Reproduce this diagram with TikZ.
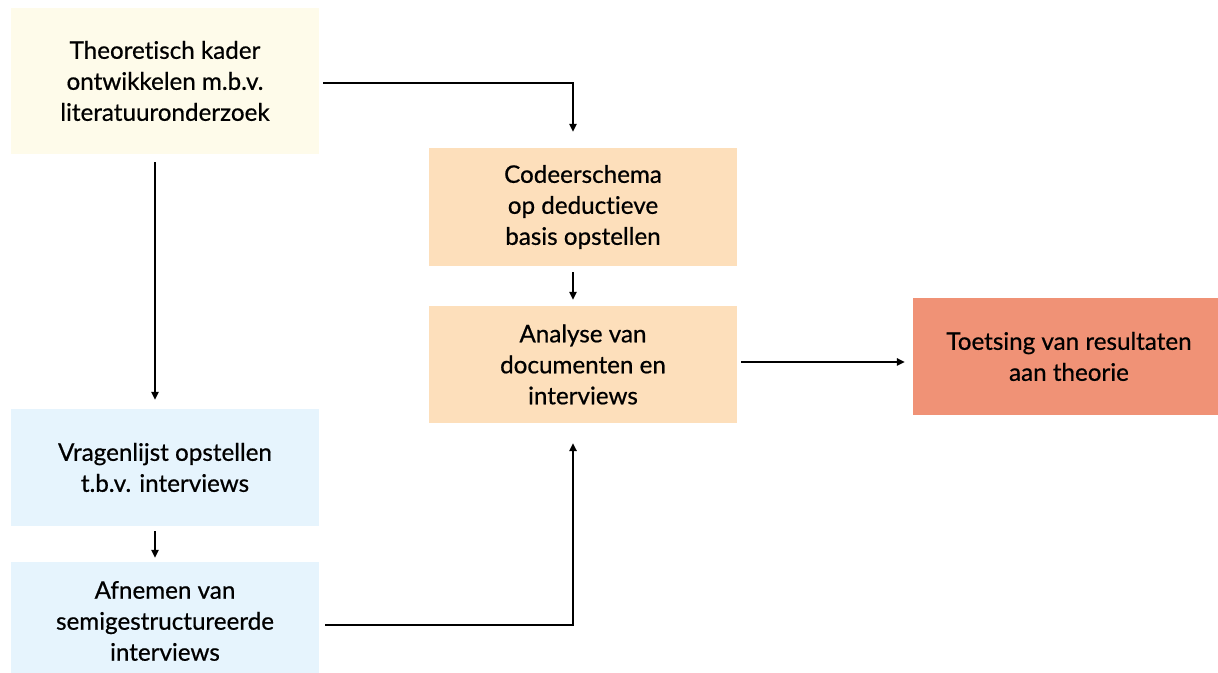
\documentclass[tikz,border=0pt]{standalone}
\usepackage{fontspec}
\setmainfont{Lato}[Ligatures={NoCommon}, FakeBold=0.6]
\usetikzlibrary{arrows.meta,calc}
\definecolor{cream}{HTML}{FEFBEA}
\definecolor{peach}{HTML}{FDDFBB}
\definecolor{salmon}{HTML}{F09276}
\definecolor{skyblue}{HTML}{E6F4FD}
\tikzset{
  box/.style={draw=none, inner sep=0pt, align=center, font=\fontsize{24.2}{31}\selectfont, text=black},
  arr/.style={line width=1.5pt, -{Triangle[length=8pt,width=7.5pt]}},
}
\begin{document}
\begin{tikzpicture}[x=1pt,y=1pt]
\useasboundingbox (0,0) rectangle (1218,672);
\fill[white] (0,0) rectangle (1218,672);
\node[box, fill=cream, minimum width=308pt, minimum height=146pt] (t) at (165,591) {Theoretisch kader\\ontwikkelen m.b.v.\\literatuuronderzoek};
\node[box, fill=peach, minimum width=308pt, minimum height=118pt] (c) at (583,465) {Codeerschema\\op deductieve\\basis opstellen};
\node[box, fill=peach, minimum width=308pt, minimum height=117pt] (an) at (583,307.5) {Analyse van\\documenten en\\interviews};
\node[box, fill=salmon, minimum width=312pt, minimum height=117pt] (to) at (1069,315.5) {Toetsing van resultaten\\aan theorie};
\node[box, fill=skyblue, minimum width=308pt, minimum height=117pt] (v) at (165,204.5) {Vragenlijst opstellen\\t.b.v. interviews};
\node[box, fill=skyblue, minimum width=308pt, minimum height=118pt] (af) at (165,51) {Afnemen van\\semigestructureerde\\interviews};
\coordinate (p1) at ([xshift=4pt,yshift=-2pt]t.east);
\coordinate (p2) at ([xshift=-10pt,yshift=16pt]c.north);
\draw[arr] (p1) -| (p2);
\draw[arr] ([xshift=-10pt,yshift=-8pt]t.south) -- ([xshift=-10pt,yshift=9pt]v.north);
\draw[arr] ([xshift=-10pt,yshift=-6pt]c.south) -- ([xshift=-10pt,yshift=6pt]an.north);
\draw[arr] ([xshift=-10pt,yshift=-5pt]v.south) -- ([xshift=-10pt,yshift=4pt]af.north);
\coordinate (q1) at ([xshift=6pt,yshift=-4pt]af.east);
\coordinate (q2) at ([xshift=-10pt,yshift=-20pt]an.south);
\draw[arr] (q1) -| (q2);
\coordinate (r1) at ([xshift=4pt,yshift=2.5pt]an.east);
\coordinate (r2) at ($(r1 -| to.west)+(-8pt,0)$);
\draw[arr] (r1) -- (r2);
\end{tikzpicture}
\end{document}
